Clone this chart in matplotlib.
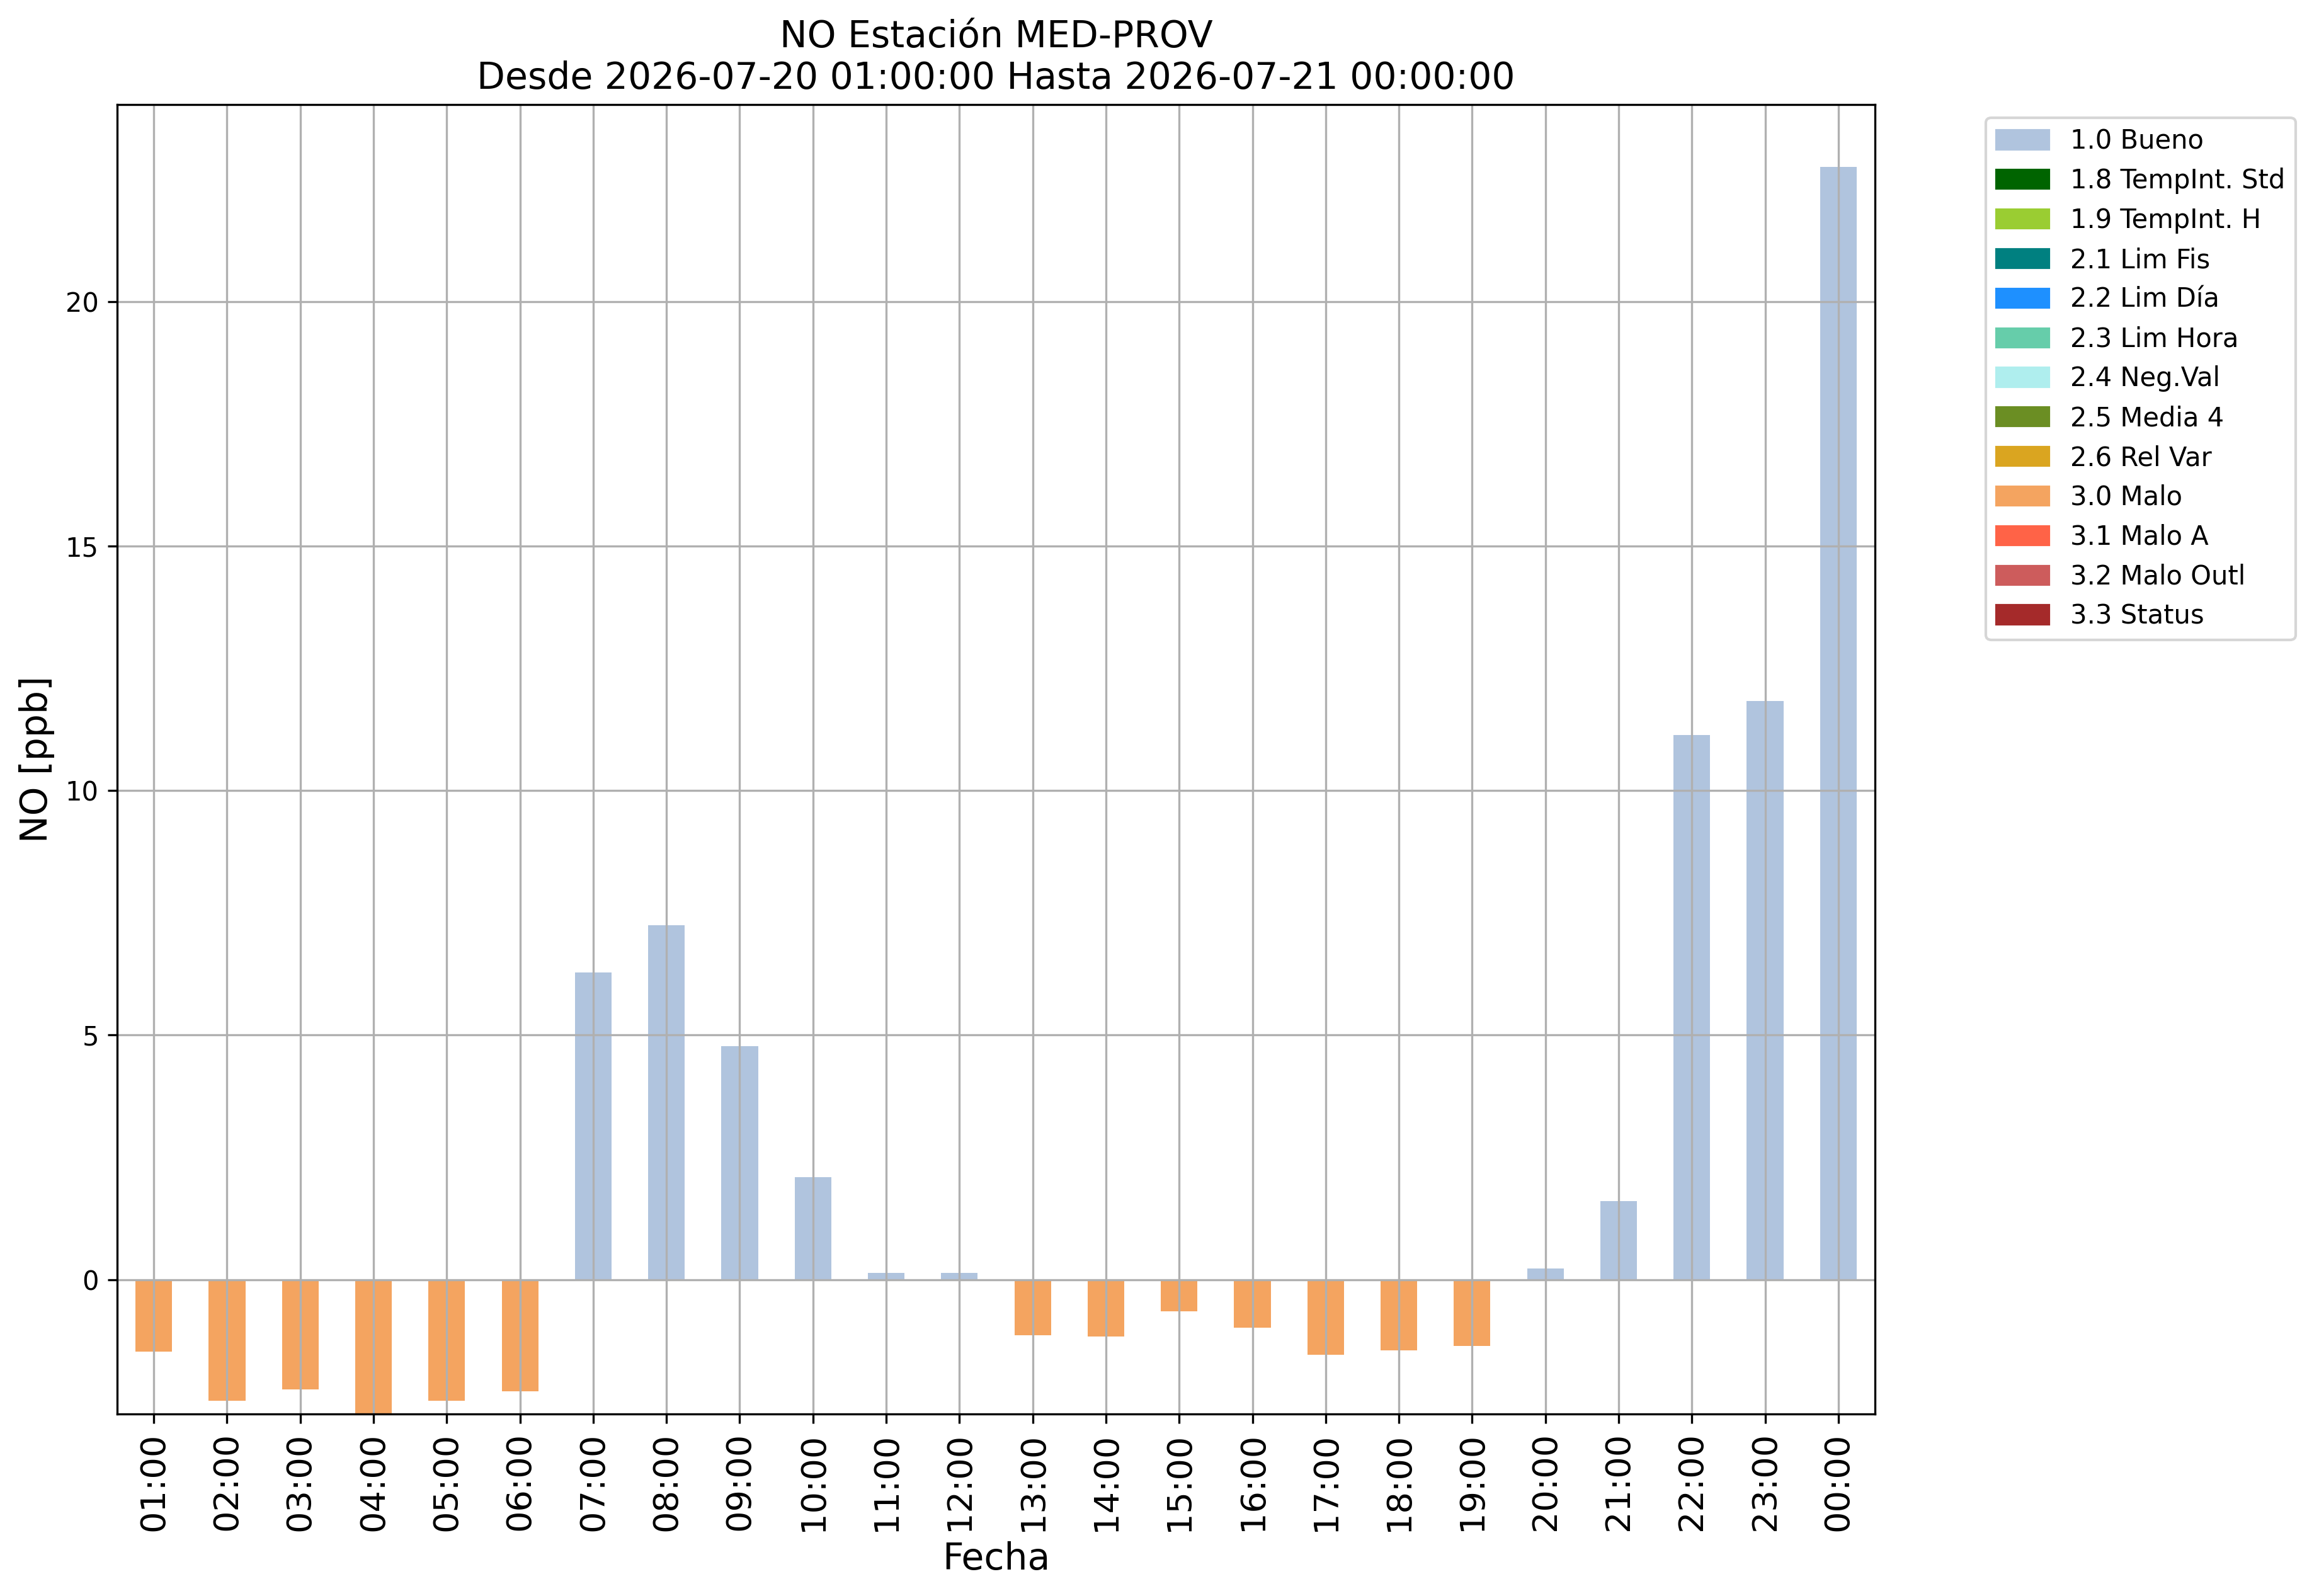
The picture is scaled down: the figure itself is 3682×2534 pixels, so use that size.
import numpy as np
import matplotlib
matplotlib.use("Agg")
import matplotlib.pyplot as plt
from matplotlib.patches import Patch

# hourly NO values and their validation flag
horas = ["01:00", "02:00", "03:00", "04:00", "05:00", "06:00", "07:00", "08:00",
         "09:00", "10:00", "11:00", "12:00", "13:00", "14:00", "15:00", "16:00",
         "17:00", "18:00", "19:00", "20:00", "21:00", "22:00", "23:00", "00:00"]
valores = [-1.47, -2.48, -2.25, -2.75, -2.48, -2.29, 6.28, 7.25,
           4.77, 2.10, 0.13, 0.14, -1.14, -1.16, -0.65, -0.99,
           -1.54, -1.45, -1.36, 0.23, 1.60, 11.14, 11.83, 22.76]
flags = [3.0, 3.0, 3.0, 3.0, 3.0, 3.0, 1.0, 1.0,
         1.0, 1.0, 1.0, 1.0, 3.0, 3.0, 3.0, 3.0,
         3.0, 3.0, 3.0, 1.0, 1.0, 1.0, 1.0, 1.0]

codigos = [1.0, 1.8, 1.9, 2.1, 2.2, 2.3, 2.4, 2.5, 2.6, 3.0, 3.1, 3.2, 3.3]
etiquetas = ["1.0 Bueno", "1.8 TempInt. Std", "1.9 TempInt. H", "2.1 Lim Fis",
             "2.2 Lim Día", "2.3 Lim Hora", "2.4 Neg.Val", "2.5 Media 4",
             "2.6 Rel Var", "3.0 Malo", "3.1 Malo A", "3.2 Malo Outl", "3.3 Status"]
colores = ["lightsteelblue", "darkgreen", "yellowgreen", "teal", "dodgerblue",
           "mediumaquamarine", "paleturquoise", "olivedrab", "goldenrod",
           "sandybrown", "tomato", "indianred", "brown"]

W, H, DPI = 3682, 2534, 300
fig = plt.figure(figsize=(W / DPI, H / DPI), dpi=DPI)
ax = fig.add_axes([186 / W, 1 - 2245 / H, (2977 - 186) / W, (2245 - 166) / H])

x = np.arange(len(horas))
v = np.array(valores)
f = np.array(flags)
for cod, col in zip(codigos, colores):
    m = f == cod
    if m.any():
        ax.bar(x[m], v[m], width=0.5, color=col)

ax.set_xlim(-0.5, len(horas) - 0.5)
ax.set_ylim(bottom=v.min())
ax.set_xticks(x)
ax.set_xticklabels(horas, rotation=90, fontsize=13)
ax.tick_params(axis="y", labelsize=10)
ax.grid(True)
ax.set_xlabel("Fecha", fontsize=14)
ax.set_ylabel("NO [ppb]", fontsize=14)
ax.set_title("NO Estación MED-PROV\nDesde 2026-07-20 01:00:00 Hasta 2026-07-21 00:00:00",
             fontsize=14)

handles = [Patch(color=c, label=l) for c, l in zip(colores, etiquetas)]
ax.legend(handles=handles, bbox_to_anchor=(1.0557, 1), loc="upper left", fontsize=10)

fig.savefig("out.png", dpi=DPI)
